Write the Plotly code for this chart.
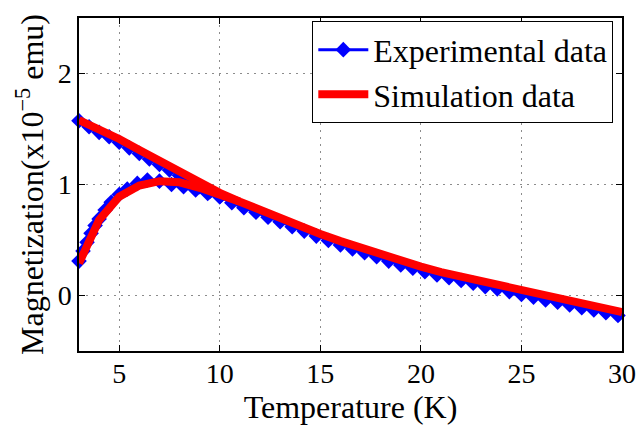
import plotly.graph_objects as go

# Experimental data: field-cooled branch (upper) continuing into the common high-T branch
exp_fc_T = [3.0, 3.5, 4.0, 4.5, 5.0, 5.5, 6.0, 6.5, 7.0, 7.5, 8.0, 8.5, 9.0, 9.5,
            10.0, 10.6, 11.2, 11.8, 12.4, 13.0, 13.6, 14.2, 14.8, 15.4, 16.0, 16.6,
            17.2, 17.8, 18.4, 19.0, 19.6, 20.2, 20.8, 21.4, 22.0, 22.6, 23.2, 23.8,
            24.4, 25.0, 25.6, 26.2, 26.8, 27.4, 28.0, 28.6, 29.2, 29.8]
exp_fc_M = [1.575, 1.52, 1.47, 1.43, 1.38, 1.33, 1.28, 1.23, 1.18, 1.13, 1.08, 1.03, 0.98, 0.935,
            0.89, 0.835, 0.79, 0.75, 0.705, 0.665, 0.62, 0.58, 0.535, 0.495, 0.455, 0.42,
            0.385, 0.35, 0.31, 0.275, 0.245, 0.215, 0.185, 0.16, 0.135, 0.11, 0.08, 0.06,
            0.035, 0.01, -0.015, -0.04, -0.06, -0.085, -0.11, -0.13, -0.155, -0.18]

# Experimental data: zero-field-cooled branch (lower, low temperature)
exp_zfc_T = [3.0, 3.2, 3.4, 3.6, 3.8, 4.0, 4.3, 4.6, 5.0, 5.4, 5.9, 6.4, 7.0, 7.6, 8.2, 8.8, 9.4, 10.0]
exp_zfc_M = [0.31, 0.40, 0.48, 0.56, 0.63, 0.69, 0.77, 0.84, 0.91, 0.96, 1.01, 1.04, 1.03, 1.00,
             0.98, 0.95, 0.92, 0.89]

# Simulation data
sim_fc_T = [3, 4, 5, 6, 7, 8, 9, 10, 11, 12, 13, 14, 15, 16, 17, 18, 19, 20, 21, 22, 23, 24,
            25, 26, 27, 28, 29, 30]
sim_fc_M = [1.58, 1.50, 1.41, 1.31, 1.21, 1.11, 1.01, 0.925, 0.845, 0.77, 0.70, 0.63, 0.555,
            0.49, 0.43, 0.365, 0.31, 0.26, 0.21, 0.17, 0.125, 0.085, 0.045, 0.005, -0.035,
            -0.075, -0.11, -0.15]
sim_zfc_T = [3, 4, 5, 6, 7, 8, 9, 10, 11]
sim_zfc_M = [0.29, 0.68, 0.89, 0.99, 1.03, 1.02, 0.97, 0.915, 0.845]

x_ticks = [5, 10, 15, 20, 25, 30]
y_ticks = [0, 1, 2]

FONT = "Liberation Serif"
BLUE = "#0000ff"
RED = "#ff0000"
FS_TICK = 28
FS = 32

fig = go.Figure()

fig.add_trace(go.Scatter(
    x=exp_zfc_T, y=exp_zfc_M, mode="lines+markers", showlegend=False,
    line=dict(color=BLUE, width=3),
    marker=dict(symbol="diamond", size=12, color=BLUE),
    cliponaxis=False, legendgroup="exp"))
fig.add_trace(go.Scatter(
    x=exp_fc_T, y=exp_fc_M, mode="lines+markers", name="Experimental data",
    line=dict(color=BLUE, width=3),
    marker=dict(symbol="diamond", size=12, color=BLUE),
    cliponaxis=False, legendgroup="exp"))
fig.add_trace(go.Scatter(
    x=sim_zfc_T, y=sim_zfc_M, mode="lines", showlegend=False,
    line=dict(color=RED, width=8), cliponaxis=False, legendgroup="sim"))
fig.add_trace(go.Scatter(
    x=sim_fc_T, y=sim_fc_M, mode="lines", name="Simulation data",
    line=dict(color=RED, width=8), cliponaxis=False, legendgroup="sim"))

axis_common = dict(
    showline=True, linecolor="black", linewidth=1.5, mirror="ticks",
    ticks="inside", ticklen=6, tickcolor="black", tickwidth=1,
    showgrid=True, gridcolor="#8c8c8c", griddash="2px,5px", gridwidth=1,
    zeroline=False, tickfont=dict(family=FONT, size=FS_TICK, color="black"),
    ticklabeloverflow="allow", automargin=False,
)

fig.update_xaxes(range=[3, 30], tickvals=x_ticks, ticktext=[str(v) for v in x_ticks],
                 ticklabelstandoff=-3,
                 title=dict(text="Temperature (K)", font=dict(family=FONT, size=FS, color="black"),
                            standoff=0),
                 **axis_common)
fig.update_yaxes(range=[-0.5, 2.5], tickvals=y_ticks, ticktext=[str(v) for v in y_ticks],
                 title=dict(text="Magnetization(x10<sup>\u22125</sup> emu)",
                            font=dict(family=FONT, size=FS, color="black"), standoff=4),
                 **axis_common)

fig.update_layout(
    width=636, height=425,
    margin=dict(l=79, r=14, t=18, b=74, autoexpand=False),
    paper_bgcolor="white", plot_bgcolor="white",
    font=dict(family=FONT, size=FS, color="black"),
    legend=dict(x=0.984, y=0.99, xanchor="right", yanchor="top",
                bgcolor="white", bordercolor="black", borderwidth=1,
                font=dict(family=FONT, size=FS, color="black"),
                itemwidth=50, tracegroupgap=0),
)

fig.write_html("out.html", config={"displayModeBar": False},
               post_script="document.body.style.margin='0';document.body.style.overflow='hidden';")
